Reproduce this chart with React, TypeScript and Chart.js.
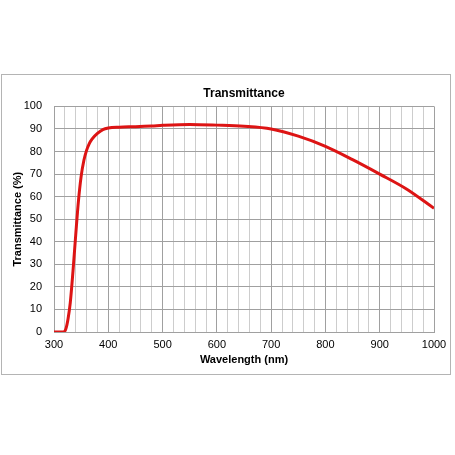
import React, { useEffect, useRef } from "react";
import { Chart, registerables } from "chart.js";

Chart.register(...registerables);

const wavelengths = [300, 310, 318, 322, 326, 330, 335, 340, 345, 350, 355, 360, 365, 370, 380, 390, 400, 420, 450, 480, 500, 550, 600, 650, 700, 750, 800, 850, 900, 950, 1000];
const transmittance = [0, 0, 0, 1.5, 6, 13, 27, 43, 58, 69, 76, 80.5, 83.5, 85.5, 88, 89.7, 90.4, 90.8, 91, 91.3, 91.6, 92, 91.7, 91.2, 90, 86.8, 82.3, 76.4, 70, 63.3, 54.8];
const xMin = 300;
const xMax = 1000;
const yMin = 0;
const yMax = 100;

const FONT = "'Liberation Sans', Arial, sans-serif";

export default function App() {
  const ref = useRef<HTMLCanvasElement>(null);
  useEffect(() => {
    if (!ref.current) return;
    const chart = new Chart(ref.current, {
      type: "line",
      data: {
        datasets: [
          {
            label: "Transmittance",
            data: wavelengths.map((x, i) => ({ x, y: transmittance[i] })),
            borderColor: "#dd1414",
            borderWidth: 3,
            pointRadius: 0,
            cubicInterpolationMode: "monotone",
            fill: false,
          },
        ],
      },
      options: {
        animation: false,
        responsive: false,
        maintainAspectRatio: false,
        layout: { padding: { top: 86, left: 11, right: 21, bottom: 88.6 } },
        plugins: {
          legend: { display: false },
          tooltip: { enabled: false },
          title: {
            display: true,
            text: "Transmittance",
            fullSize: false,
            color: "#000",
            font: { family: FONT, size: 12, weight: "bold", lineHeight: 1.2 },
            padding: { top: 0, bottom: 6 },
          },
        },
        scales: {
          x: {
            type: "linear",
            min: xMin,
            max: xMax,
            ticks: {
              stepSize: 20,
              autoSkip: false,
              maxRotation: 0,
              color: "#000",
              font: { family: FONT, size: 11 },
              padding: 6,
              callback: (v: any) => (Number(v) % 100 === 0 ? String(v) : ""),
            },
            grid: {
              drawTicks: false,
              color: (ctx: any) => (ctx.tick && ctx.tick.value % 100 === 0 ? "#a0a0a0" : "#cdcdcd"),
              lineWidth: 1,
            },
            border: { display: true, color: "#a0a0a0" },
            title: {
              display: true,
              text: "Wavelength (nm)",
              color: "#000",
              font: { family: FONT, size: 11, weight: "bold" },
              padding: { top: -4, bottom: 0 },
            },
          },
          y: {
            type: "linear",
            min: yMin,
            max: yMax,
            ticks: {
              stepSize: 10,
              color: "#000",
              font: { family: FONT, size: 11 },
              padding: 12,
            },
            grid: {
              drawTicks: false,
              color: "#a0a0a0",
              lineWidth: 1,
            },
            border: { display: true, color: "#a0a0a0" },
            title: {
              display: true,
              text: "Transmittance (%)",
              color: "#000",
              font: { family: FONT, size: 11, weight: "bold" },
              padding: { top: 0, bottom: 0 },
            },
            afterFit: (scale: any) => {
              scale.width = 54 - 11;
            },
          },
        },
      },
    });
    return () => chart.destroy();
  }, []);

  return (
    <div style={{ position: "fixed", left: 0, top: 0, width: 455, height: 455, background: "#fff" }}>
      <div
        style={{
          position: "absolute",
          left: 1,
          top: 74,
          width: 448,
          height: 299,
          border: "1px solid #b4b4b4",
          boxSizing: "content-box",
        }}
      />
      <canvas ref={ref} width={455} height={455} style={{ position: "absolute", left: 0, top: 0, width: 455, height: 455 }} />
    </div>
  );
}
